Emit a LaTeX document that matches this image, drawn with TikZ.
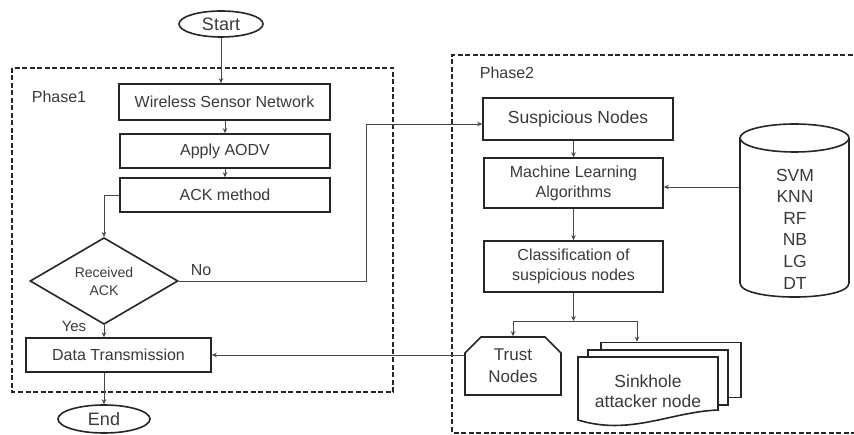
\documentclass[tikz,border=0pt]{standalone}
\usepackage{fontspec}
\setmainfont{Liberation Sans}
\usetikzlibrary{shapes.geometric,shapes.misc,arrows.meta,calc}
\definecolor{ink}{HTML}{262626}
\definecolor{txt}{HTML}{3A3A3A}
\newcommand{\fs}[2]{\fontsize{#1}{#2}\selectfont}
\begin{document}
\begin{tikzpicture}[x=1pt,y=-1pt,
  box/.style={draw=ink,line width=1.6pt,fill=white,text=txt,inner sep=0pt,align=center},
  conn/.style={draw=ink!85,line width=0.9pt},
  arr/.style={conn,-{Stealth[length=5pt,width=4.5pt]}},
  frame/.style={draw=ink,line width=1.6pt,dash pattern=on 5pt off 2.5pt},
  lbl/.style={text=txt,inner sep=0pt,align=center}]
\useasboundingbox (0,0) rectangle (854,435);
% frames
\draw[frame] (12,68) rectangle (393,392);
\draw[frame] (860,55) -- (452,55) -- (452,433) -- (860,433);
\node[lbl,font=\fs{16}{19}] (ph1) at (59,97) {Phase1};
\node[lbl,font=\fs{16}{19}] (ph2) at (507,73) {Phase2};
% phase 1
\node[box,ellipse,minimum width=84,minimum height=26,font=\fs{18}{21}] (start) at (221,24) {Start};
\node[box,minimum width=211,minimum height=36,font=\fs{16}{19}] (wsn) at (224.5,102) {Wireless Sensor Network};
\node[box,minimum width=210,minimum height=34,font=\fs{16}{19}] (aodv) at (225,151) {Apply AODV};
\node[box,minimum width=210,minimum height=34,font=\fs{16}{19}] (ack) at (225,195) {ACK method};
\node[box,diamond,minimum width=148,minimum height=72,font=\fs{14}{18}] (dec) at (104,281) {Received\\ACK};
\node[box,minimum width=185,minimum height=34,font=\fs{16}{19}] (dt) at (118.5,355) {Data Transmission};
\node[box,ellipse,minimum width=92,minimum height=28,font=\fs{18}{21}] (stop) at (104,419) {End};
\node[lbl,font=\fs{16}{19}] (no) at (201,270) {No};
\node[lbl,font=\fs{15}{18}] (yes) at (74,326) {Yes};
% phase 2
\node[box,minimum width=190,minimum height=42,font=\fs{17.5}{20}] (susp) at (578,119) {Suspicious Nodes};
\node[box,minimum width=179,minimum height=50,font=\fs{16}{20}] (ml) at (573.5,183) {Machine Learning\\Algorithms};
\node[box,minimum width=179,minimum height=51,font=\fs{16}{20}] (cls) at (573.5,266.5) {Classification of\\suspicious nodes};
\node[box,chamfered rectangle,chamfered rectangle corners={north west,north east},
      chamfered rectangle xsep=8pt,chamfered rectangle ysep=8pt,
      minimum width=96,minimum height=58,font=\fs{17}{22}] (trust) at (513,366) {Trust\\Nodes};
% sinkhole multi-document
\node[box,minimum width=140,minimum height=55] (sk3) at (671,370) {};
\node[box,minimum width=140,minimum height=55] (sk2) at (658,377.5) {};
\draw[ink,line width=1.6pt,fill=white] (578,357) -- (718,357) -- (718,410)
  .. controls (670,412) and (630,436) .. (578,420) -- cycle;
\node[lbl,font=\fs{17.5}{20}] (sink) at (648,391) {Sinkhole\\attacker node};
% database cylinder
\node[minimum width=109,minimum height=173,inner sep=0pt] (db) at (794.5,210.5) {};
\draw[ink,line width=1.6pt,fill=white] (740,138) -- (740,283)
  .. controls (740,301.7) and (849,301.7) .. (849,283) -- (849,138);
\draw[ink,line width=1.6pt,fill=white] (794.5,138) ellipse [x radius=54.5,y radius=14];
\node[lbl,font=\fs{17.5}{21.6}] (algs) at (795,229) {SVM\\KNN\\RF\\NB\\LG\\DT};
% connectors
\draw[arr] (start) -- (start |- wsn.north);
\draw[arr] (wsn.south -| aodv.north) -- (aodv.north);
\draw[arr] (aodv) -- (ack);
\draw[arr] (ack.west) -| (dec.north);
\draw[arr] (dec.east) -- ($(dec.east)+(188,0)$) |- ([yshift=-5pt]susp.west);
\draw[arr] (dec.south) -- (dec.south |- dt.north);
\draw[arr] (dec.south |- dt.south) -- (stop.north);
\draw[arr] (susp.south -| ml.north) -- (ml.north);
\draw[arr] (db.west |- ml.east) ++(0,4) -- ([yshift=-4pt]ml.east);
\draw[arr] (ml) -- (cls);
\coordinate (jn) at (573.5,321);
\draw[arr] (cls.south) -- (jn);
\draw[arr] (jn) -| (trust.north);
\draw[arr] (jn) -| ($(sk3.north)+(-34,0)$);
\draw[arr] (dt.east -| trust.west) -- (dt.east);
\end{tikzpicture}
\end{document}
